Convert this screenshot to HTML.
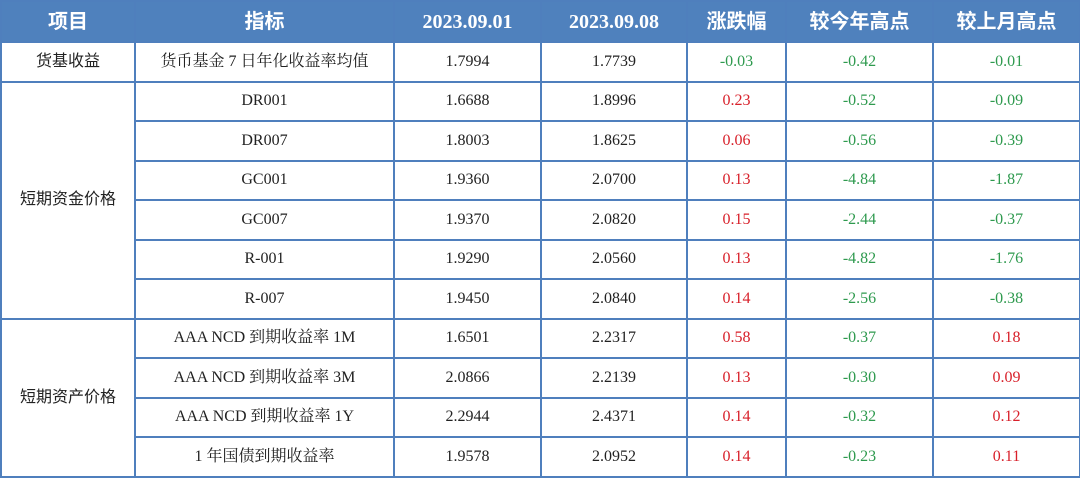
<!DOCTYPE html>
<html><head><meta charset="utf-8"><style>
body{margin:0;width:1080px;height:478px;background:#fff;overflow:hidden}
table{position:absolute;left:0;top:0;border-collapse:collapse;table-layout:fixed;width:1079px;font-family:"Liberation Serif","Noto Serif CJK SC",serif;font-size:16px;line-height:18px;color:#222}
td,th{border:2px solid #4f7fbd;text-align:center;vertical-align:middle;padding:0;height:37.5px}
th{background:#4f81bd;color:#fff;font-family:"Liberation Sans","Noto Sans CJK SC",sans-serif;font-size:20px;line-height:22px;font-weight:bold;height:39px}
th.d{font-family:"Liberation Serif","Noto Serif CJK SC",serif;font-size:20px}
td.cat{font-family:"Liberation Sans","Noto Sans CJK SC",sans-serif;font-size:16px}
.g{color:#2e9a4e}.r{color:#d8202a}
</style></head><body>
<table>
<colgroup><col style="width:134px"><col style="width:259px"><col style="width:147px"><col style="width:146px"><col style="width:99px"><col style="width:147px"><col style="width:147px"></colgroup>
<tr><th>项目</th><th>指标</th><th class="d">2023.09.01</th><th class="d">2023.09.08</th><th>涨跌幅</th><th>较今年高点</th><th>较上月高点</th></tr>
<tr><td class="cat">货基收益</td><td>货币基金 7 日年化收益率均值</td><td>1.7994</td><td>1.7739</td><td class="g">-0.03</td><td class="g">-0.42</td><td class="g">-0.01</td></tr>
<tr><td class="cat" rowspan="6">短期资金价格</td><td>DR001</td><td>1.6688</td><td>1.8996</td><td class="r">0.23</td><td class="g">-0.52</td><td class="g">-0.09</td></tr>
<tr><td>DR007</td><td>1.8003</td><td>1.8625</td><td class="r">0.06</td><td class="g">-0.56</td><td class="g">-0.39</td></tr>
<tr><td>GC001</td><td>1.9360</td><td>2.0700</td><td class="r">0.13</td><td class="g">-4.84</td><td class="g">-1.87</td></tr>
<tr><td>GC007</td><td>1.9370</td><td>2.0820</td><td class="r">0.15</td><td class="g">-2.44</td><td class="g">-0.37</td></tr>
<tr><td>R-001</td><td>1.9290</td><td>2.0560</td><td class="r">0.13</td><td class="g">-4.82</td><td class="g">-1.76</td></tr>
<tr><td>R-007</td><td>1.9450</td><td>2.0840</td><td class="r">0.14</td><td class="g">-2.56</td><td class="g">-0.38</td></tr>
<tr><td class="cat" rowspan="4">短期资产价格</td><td>AAA NCD 到期收益率 1M</td><td>1.6501</td><td>2.2317</td><td class="r">0.58</td><td class="g">-0.37</td><td class="r">0.18</td></tr>
<tr><td>AAA NCD 到期收益率 3M</td><td>2.0866</td><td>2.2139</td><td class="r">0.13</td><td class="g">-0.30</td><td class="r">0.09</td></tr>
<tr><td>AAA NCD 到期收益率 1Y</td><td>2.2944</td><td>2.4371</td><td class="r">0.14</td><td class="g">-0.32</td><td class="r">0.12</td></tr>
<tr><td>1 年国债到期收益率</td><td>1.9578</td><td>2.0952</td><td class="r">0.14</td><td class="g">-0.23</td><td class="r">0.11</td></tr>
</table>
</body></html>
